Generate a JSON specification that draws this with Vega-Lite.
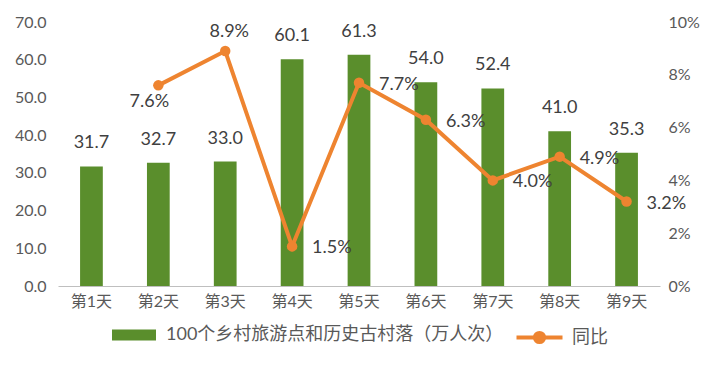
{
  "$schema": "https://vega.github.io/schema/vega-lite/v6.json",
  "width": 602,
  "height": 264,
  "autosize": {"type": "none"},
  "padding": {"left": 58, "top": 22, "right": 60, "bottom": 81},
  "background": "white",
  "config": {
    "view": {"stroke": null},
    "font": "Lato, Noto Sans CJK SC",
    "axis": {"labelColor": "#595959", "labelFontSize": 16, "labelFont": "Lato, Noto Sans CJK SC", "grid": false, "ticks": false, "domain": false, "title": null, "labelOverlap": false},
    "legend": {"labelColor": "#595959", "labelFontSize": 18, "labelFont": "Lato, Noto Sans CJK SC", "labelLimit": 500}
  },
  "data": {
    "values": [
      {"day": "第1天", "v": 31.7, "pct": null},
      {"day": "第2天", "v": 32.7, "pct": 0.076},
      {"day": "第3天", "v": 33.0, "pct": 0.089},
      {"day": "第4天", "v": 60.1, "pct": 0.015},
      {"day": "第5天", "v": 61.3, "pct": 0.077},
      {"day": "第6天", "v": 54.0, "pct": 0.063},
      {"day": "第7天", "v": 52.4, "pct": 0.040},
      {"day": "第8天", "v": 41.0, "pct": 0.049},
      {"day": "第9天", "v": 35.3, "pct": 0.032}
    ]
  },
  "encoding": {
    "x": {"field": "day", "type": "nominal", "sort": null, "scale": {"paddingInner": 0.66, "paddingOuter": 0.33},
      "axis": {"labelAngle": 0, "domain": true, "domainColor": "#bfbfbf", "labelPadding": 7}}
  },
  "layer": [
    {
      "layer": [
        {
          "mark": {"type": "bar"},
          "encoding": {
            "y": {"field": "v", "type": "quantitative", "scale": {"domain": [0, 70]},
              "axis": {"orient": "left", "values": [0, 10, 20, 30, 40, 50, 60, 70], "format": ".1f", "labelPadding": 12, "labelOverlap": false, "labelFlush": false}},
            "fill": {"datum": "100个乡村旅游点和历史古村落（万人次）", "type": "nominal",
              "scale": {"range": ["#5a8e2c"]},
              "legend": {"orient": "none", "legendX": 65, "legendY": 302, "title": null, "symbolType": "M-2,-0.5H2V0.5H-2Z", "symbolSize": 484, "symbolStrokeWidth": 0, "labelOffset": 21}}
          }
        },
        {
          "mark": {"type": "text", "baseline": "middle", "dy": -23, "fontSize": 18, "color": "#404040"},
          "encoding": {
            "y": {"field": "v", "type": "quantitative", "axis": {"orient": "left", "values": [0, 10, 20, 30, 40, 50, 60, 70], "format": ".1f", "labelPadding": 12, "labelOverlap": false, "labelFlush": false}},
            "text": {"field": "v", "type": "quantitative", "format": ".1f"}
          }
        }
      ]
    },
    {
      "transform": [{"filter": "datum.pct != null"}],
      "layer": [
        {
          "mark": {"type": "line", "strokeWidth": 4},
          "encoding": {
            "y": {"field": "pct", "type": "quantitative", "scale": {"domain": [0, 0.1]},
              "axis": {"orient": "right", "values": [0, 0.02, 0.04, 0.06, 0.08, 0.1], "format": ".0%", "labelPadding": 8, "labelOverlap": false, "labelFlush": false}},
            "stroke": {"datum": "同比", "type": "nominal", "scale": {"range": ["#ee8430"]},
              "legend": {"orient": "none", "legendX": 468, "legendY": 302, "title": null, "symbolType": "M-2,0H2M0.4,0A0.4,0.4 0 1,1 -0.4,0A0.4,0.4 0 1,1 0.4,0Z", "symbolFillColor": "#ee8430", "symbolStrokeWidth": 4, "symbolSize": 529, "labelOffset": 19}}
          }
        },
        {
          "mark": {"type": "point", "filled": true, "size": 110, "opacity": 1, "color": "#ee8430"},
          "encoding": {"y": {"field": "pct", "type": "quantitative"}}
        },
        {
          "transform": [{"filter": "datum.day != '第2天' && datum.day != '第3天'"}],
          "mark": {"type": "text", "align": "left", "baseline": "middle", "dx": 20, "dy": 2, "fontSize": 18, "color": "#404040"},
          "encoding": {"y": {"field": "pct", "type": "quantitative"}, "text": {"field": "pct", "type": "quantitative", "format": ".1%"}}
        },
        {
          "transform": [{"filter": "datum.day == '第2天'"}],
          "mark": {"type": "text", "align": "center", "baseline": "middle", "dx": -9, "dy": 17, "fontSize": 18, "color": "#404040"},
          "encoding": {"y": {"field": "pct", "type": "quantitative"}, "text": {"field": "pct", "type": "quantitative", "format": ".1%"}}
        },
        {
          "transform": [{"filter": "datum.day == '第3天'"}],
          "mark": {"type": "text", "align": "center", "baseline": "middle", "dx": 4, "dy": -19, "fontSize": 18, "color": "#404040"},
          "encoding": {"y": {"field": "pct", "type": "quantitative"}, "text": {"field": "pct", "type": "quantitative", "format": ".1%"}}
        }
      ]
    }
  ],
  "resolve": {"scale": {"y": "independent"}}
}
